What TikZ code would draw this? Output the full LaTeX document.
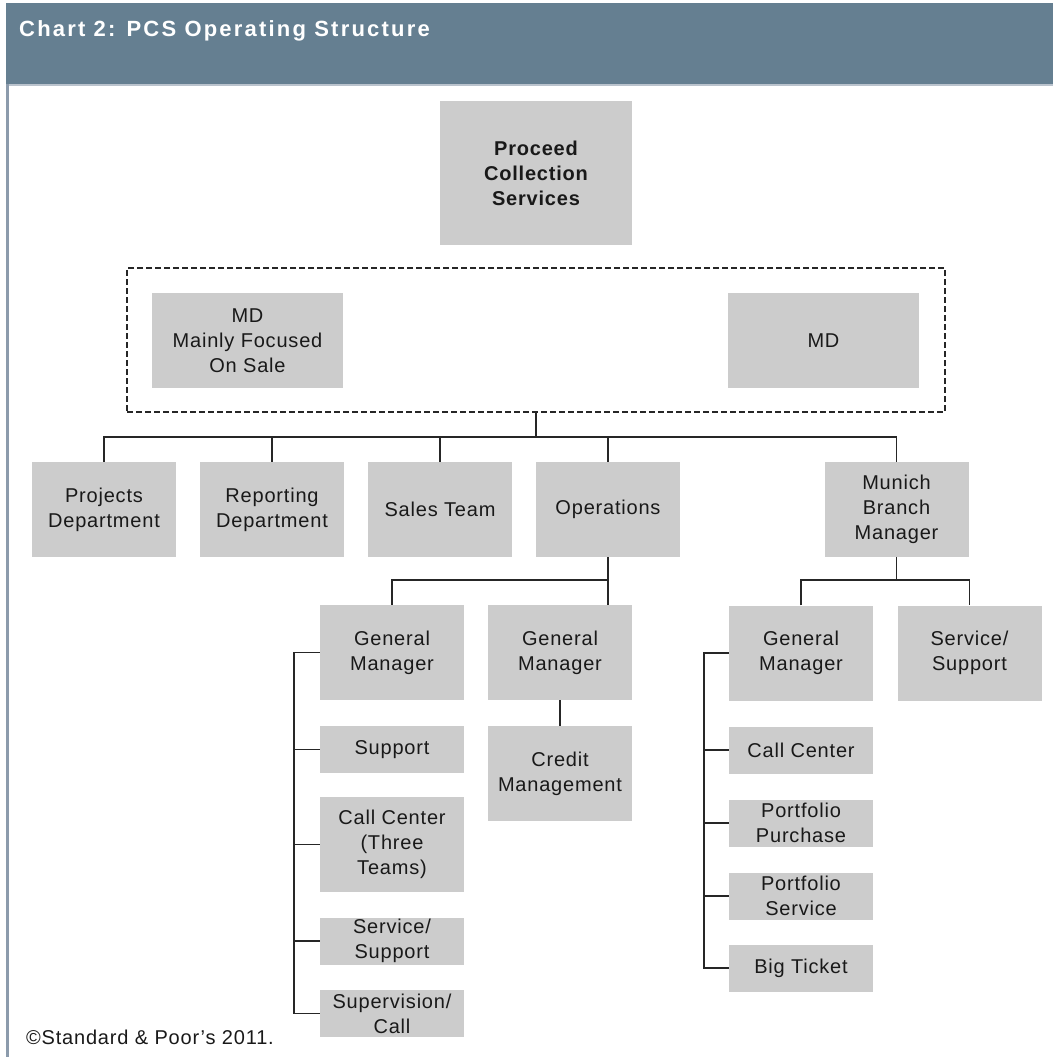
\documentclass[tikz,border=0pt]{standalone}
\usepackage{fontspec}
\setmainfont[LetterSpace=4]{Liberation Sans}
\newfontfamily\titlefont[LetterSpace=10]{Liberation Sans}
\definecolor{hdr}{RGB}{101,127,145}
\definecolor{boxgray}{RGB}{204,204,204}
\definecolor{edgeblue}{RGB}{140,155,172}
\begin{document}
\begin{tikzpicture}[x=1pt,y=-1pt,
  box/.style={fill=boxgray, inner sep=0pt, align=center, minimum width=144pt, text=black!90, font=\fontsize{20}{25}\selectfont},
  tall/.style={box, minimum height=95pt},
  short/.style={box, minimum height=47pt},
  link/.style={draw=black!85, line width=1.4pt},
]
\useasboundingbox (0,0) rectangle (1053,1057);
% header and frame
\fill[hdr] (6,3) rectangle (1053,84);
\fill[edgeblue!60] (6,84) rectangle (1053,85.5);
\fill[edgeblue] (6,84) rectangle (8.5,1057);
\node[anchor=base west, text=white, font=\titlefont\bfseries\fontsize{22}{22}\selectfont, inner sep=0pt] (title) at (19,37) {Chart 2: PCS Operating Structure};

% top
\node[box, minimum width=192pt, minimum height=144pt, font=\bfseries\fontsize{20}{25}\selectfont] (pcs) at (536,173) {Proceed\\Collection\\Services};
\node[draw=black!85, dash pattern=on 6pt off 3pt, line width=1.3pt, minimum width=818pt, minimum height=144pt, inner sep=0pt] (grp) at (536,340) {};
\node[tall, minimum width=191pt] (mdl) at (247.5,340.5) {MD\\Mainly Focused\\On Sale};
\node[tall, minimum width=191pt] (mdr) at (823.5,340.5) {MD};

% level 2
\node[tall] (proj) at (104,509.5) {Projects\\Department};
\node[tall] (rep) at (272,509.5) {Reporting\\Department};
\node[tall] (sales) at (440,509.5) {Sales Team};
\node[tall] (ops) at (608,509.5) {Operations};
\node[tall] (mun) at (896.5,509.5) {Munich\\Branch\\Manager};

% level 3
\node[tall] (gm1) at (392,652.5) {General\\Manager};
\node[tall] (gm2) at (560,652.5) {General\\Manager};
\node[tall] (gm3) at (801,653) {General\\Manager};
\node[tall] (ss2) at (969.5,653) {Service/\\Support};

% left column
\node[short] (support) at (392,749.5) {Support};
\node[tall] (cc1) at (392,844.5) {Call Center\\(Three\\Teams)};
\node[short] (ss1) at (392,941) {Service/\\Support};
\node[short] (sup) at (392,1013.5) {Supervision/\\Call};

% middle
\node[tall] (credit) at (560,773.5) {Credit\\Management};

% right column
\node[short] (cc2) at (801,750) {Call Center};
\node[short] (pp) at (801,823) {Portfolio\\Purchase};
\node[short] (ps) at (801,896) {Portfolio\\Service};
\node[short] (bt) at (801,968) {Big Ticket};

% connectors
\coordinate (topbar) at (536,437);
\draw[link] (grp.south) -- (topbar);
\draw[link] (proj.north) -- (proj.north |- topbar) -- (mun.north |- topbar) -- (mun.north);
\draw[link] (rep.north) -- (rep.north |- topbar);
\draw[link] (sales.north) -- (sales.north |- topbar);
\draw[link] (ops.north) -- (ops.north |- topbar);

\coordinate (opsbar) at (608,580);
\draw[link] (ops.south) -- (opsbar) -| (gm1.north);
\draw[link] (opsbar) -- (opsbar |- gm2.north);

\coordinate (munbar) at (896.5,580);
\draw[link] (mun.south) -- (munbar);
\draw[link] (gm3.north) -- (gm3.north |- munbar) -- (ss2.north |- munbar) -- (ss2.north);

\draw[link] (gm2.south) -- (credit.north);

\coordinate (lbx) at (294,0);
\draw[link] (gm1.west) -- (gm1.west -| lbx) -- (sup.west -| lbx) -- (sup.west);
\draw[link] (support.west) -- (support.west -| lbx);
\draw[link] (cc1.west) -- (cc1.west -| lbx);
\draw[link] (ss1.west) -- (ss1.west -| lbx);

\coordinate (rbx) at (704,0);
\draw[link] (gm3.west) -- (gm3.west -| rbx) -- (bt.west -| rbx) -- (bt.west);
\draw[link] (cc2.west) -- (cc2.west -| rbx);
\draw[link] (pp.west) -- (pp.west -| rbx);
\draw[link] (ps.west) -- (ps.west -| rbx);

% footer
\node[anchor=base west, inner sep=0pt, text=black!90, font=\fontsize{20}{24}\selectfont] (copy) at (26,1044) {©Standard \& Poor's 2011.};
\end{tikzpicture}
\end{document}
